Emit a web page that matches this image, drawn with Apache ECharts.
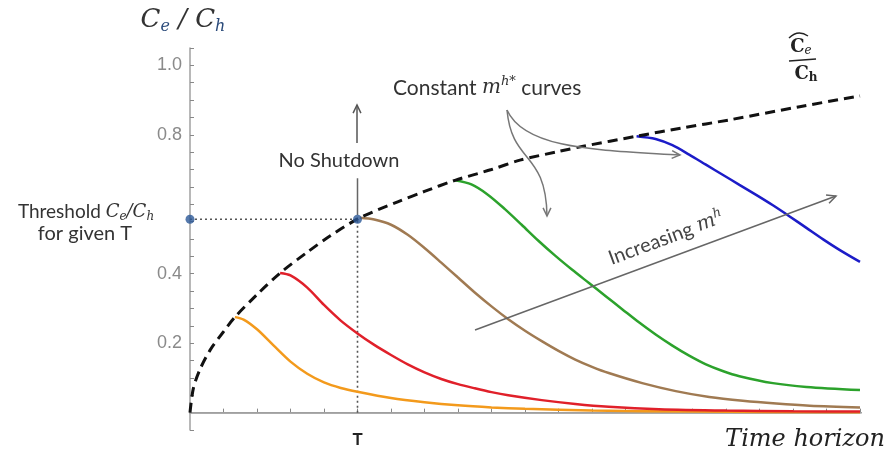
<!DOCTYPE html>
<html><head><meta charset="utf-8">
<script src="https://cdn.jsdelivr.net/npm/echarts@6/dist/echarts.min.js"></script>
<style>html,body{margin:0;padding:0;background:#fff}#c{width:888px;height:459px}</style>
</head><body><div id="c"></div>
<script>
// ---- data ----
const envelope = [[0,0],[0.1,0.07],[0.3,0.125],[0.6,0.18],[1,0.233],[1.34,0.275],[2,0.34],[2.69,0.402],[3.5,0.462],[4.2,0.51],[5.07,0.561],[6.2,0.607],[7.0,0.637],[7.91,0.669],[9,0.70],[9.85,0.727],[11,0.752],[11.74,0.767],[13.33,0.796],[14.7,0.82],[16.1,0.843],[18.2,0.881],[20,0.912]];
const orangeCurve = [[1.34,0.275],[1.6,0.268],[2,0.24],[2.5,0.193],[3,0.147],[3.5,0.112],[4,0.087],[4.5,0.071],[5,0.06],[6,0.042],[7,0.03],[8,0.021],[9,0.015],[10,0.011],[12,0.006],[15,0.003],[20,0.001]];
const redCurve = [[2.69,0.402],[3,0.395],[3.5,0.36],[4,0.31],[4.5,0.265],[5,0.228],[5.5,0.195],[6,0.166],[6.5,0.139],[7,0.116],[7.5,0.097],[8,0.082],[8.5,0.07],[9,0.059],[9.5,0.05],[10.5,0.036],[11.5,0.025],[12.5,0.017],[14,0.01],[16,0.006],[18,0.004],[20,0.003]];
const brownCurve = [[5.07,0.561],[5.5,0.556],[6,0.541],[6.5,0.512],[7,0.474],[7.5,0.432],[8,0.389],[8.5,0.346],[9,0.306],[9.5,0.269],[10,0.236],[10.5,0.206],[11,0.178],[11.5,0.153],[12,0.132],[12.5,0.114],[13.5,0.085],[14.5,0.062],[15.5,0.045],[16.5,0.034],[17.5,0.026],[18.5,0.02],[20,0.015]];
const greenCurve = [[7.91,0.669],[8.4,0.657],[8.9,0.627],[9.4,0.586],[9.9,0.541],[10.4,0.495],[10.9,0.452],[11.4,0.412],[11.9,0.374],[12.4,0.336],[12.9,0.298],[13.4,0.26],[13.9,0.225],[14.4,0.193],[14.9,0.164],[15.4,0.139],[15.9,0.12],[16.4,0.105],[17.4,0.085],[18.4,0.074],[20,0.065]];
const blueCurve = [[13.33,0.796],[13.9,0.788],[14.4,0.77],[14.9,0.743],[15.4,0.714],[15.9,0.685],[16.4,0.656],[16.9,0.627],[17.4,0.597],[17.9,0.565],[18.4,0.532],[18.9,0.499],[19.4,0.468],[20,0.434]];
const thresholdT = 5;
const thresholdValue = 0.557;
const yTickLabels = ['0.2','0.4','0.8','1.0'];
const xTickLabel = 'T';

// ---- chart ----
const chart = echarts.init(document.getElementById('c'), null, {renderer:'canvas'});
const SANS = 'Lato, "Open Sans", sans-serif';
const SERIF = '"DejaVu Serif", "Liberation Serif", serif';
const AX = '#a0a0a0';

function head(x, y, ang, L, col) {
  const a = 0.45;
  return {type:'polyline', silent:true, z:20,
    shape:{points:[[x - L*Math.cos(ang-a), y - L*Math.sin(ang-a)],[x,y],[x - L*Math.cos(ang+a), y - L*Math.sin(ang+a)]]},
    style:{stroke:col, lineWidth:1.5, fill:null}};
}
function line(x1,y1,x2,y2,col,w){return {type:'line', silent:true, z:20, shape:{x1,y1,x2,y2}, style:{stroke:col, lineWidth:w||1.5}};}

const curveLine = (name, data, color) => ({
  name, type:'line', data, smooth:0.3, symbol:'none', z:3,
  lineStyle:{color, width:2.5}, clip:false
});

const option = {
  animation:false,
  backgroundColor:'#fff',
  grid:{left:190, right:28, top:48, bottom:29, containLabel:false},
  xAxis:{type:'value', min:0, max:20, interval:1,
    axisLine:{show:true, onZero:true, lineStyle:{color:AX, width:1.5}},
    axisTick:{show:true, inside:true, length:4, lineStyle:{color:'#888'}},
    axisLabel:{formatter:v => (v===thresholdT ? xTickLabel : ''), color:'#222', fontSize:17, fontWeight:'bold', fontFamily:SANS, margin:1},
    splitLine:{show:false}},
  yAxis:{type:'value', min:-0.05, max:1.05, interval:0.05,
    axisLine:{show:true, onZero:true, lineStyle:{color:AX, width:1.5}},
    axisTick:{show:true, inside:true, length:4, lineStyle:{color:'#888'}},
    axisLabel:{formatter:v => { const s = v.toFixed(1); return (yTickLabels.includes(s) && Math.abs(v-parseFloat(s))<1e-6) ? s : ''; },
      color:'#8a8a8a', fontSize:18, fontFamily:'"Liberation Sans", Arial, sans-serif', margin:8},
    splitLine:{show:false}},
  series:[
    {type:'line', data:[[-0.45,0],[20.35,0]], symbol:'none', clip:false, silent:true, z:1, lineStyle:{color:AX, width:1.5}},
    {type:'line', data:[[0,thresholdValue],[thresholdT,thresholdValue]], symbol:'none', silent:true, z:2, lineStyle:{color:'#555', width:1.6, type:[2,3]}},
    {type:'line', data:[[thresholdT,0],[thresholdT,thresholdValue]], symbol:'none', silent:true, z:2, lineStyle:{color:'#555', width:1.6, type:[2,3]}},
    {type:'line', data:[[thresholdT,thresholdValue+0.012],[thresholdT,0.675]], symbol:'none', silent:true, z:2, lineStyle:{color:'#666', width:1.5}},
    curveLine('orange', orangeCurve, '#f39a1c'),
    curveLine('red', redCurve, '#e0202a'),
    curveLine('brown', brownCurve, '#a07a52'),
    curveLine('green', greenCurve, '#2ca22c'),
    curveLine('blue', blueCurve, '#1c1cc8'),
    {name:'envelope', type:'line', data:envelope, smooth:0.3, symbol:'none', z:5, clip:false,
      lineStyle:{color:'#111', width:3, type:[10,6]}},
    {type:'scatter', data:[[0,thresholdValue],[thresholdT,thresholdValue]], symbolSize:9, clip:false, z:10,
      itemStyle:{color:'#2b5797'}}
  ],
  graphic:[
    // y axis title
    {type:'text', x:183, y:20, z:20, style:{text:'{c|C}{s|e}{c| / C}{s|h}', align:'center', verticalAlign:'middle',
      rich:{c:{fontFamily:SERIF, fontStyle:'italic', fontSize:26, fill:'#333', lineHeight:30},
            s:{fontFamily:SERIF, fontStyle:'italic', fontSize:16, fill:'#2a4a7a', lineHeight:12, verticalAlign:'bottom'}}}},
    // threshold label
    {type:'text', x:86, y:212, z:20, style:{text:'{t|Threshold }{c|C}{s|e}{c|/C}{s|h}', align:'center', verticalAlign:'middle',
      rich:{t:{fontFamily:SANS, fontSize:19, fill:'#333', lineHeight:22},
            c:{fontFamily:SERIF, fontStyle:'italic', fontSize:18, fill:'#333', lineHeight:22},
            s:{fontFamily:SERIF, fontStyle:'italic', fontSize:12, fill:'#333', lineHeight:12, verticalAlign:'bottom'}}}},
    {type:'text', x:85, y:234, z:20, style:{text:'for given T', align:'center', verticalAlign:'middle', fontFamily:SANS, fontSize:20, fill:'#333'}},
    // No shutdown
    {type:'text', x:339, y:161, z:20, style:{text:'No Shutdown', align:'center', verticalAlign:'middle', fontFamily:SANS, fontSize:20, fill:'#333'}},
    line(357,143,357,105,'#555',1.5), head(357,105,-Math.PI/2,9,'#555'),
    // Constant m curves
    {type:'text', x:393, y:88, z:20, style:{text:'{t|Constant }{m|m}{p|h*}{t| curves}', align:'left', verticalAlign:'middle',
      rich:{t:{fontFamily:SANS, fontSize:21, fill:'#333', lineHeight:26},
            m:{fontFamily:SERIF, fontStyle:'italic', fontSize:20, fill:'#333', lineHeight:26},
            p:{fontFamily:SERIF, fontStyle:'italic', fontSize:13, fill:'#333', lineHeight:14, verticalAlign:'top'}}}},
    {type:'bezierCurve', silent:true, z:20, shape:{x1:507,y1:110,cpx1:512,cpy1:165,cpx2:546,cpy2:150,x2:547,y2:216}, style:{stroke:'#777', lineWidth:1.5, fill:null}},
    head(547,216,Math.PI/2,9,'#777'),
    {type:'bezierCurve', silent:true, z:20, shape:{x1:507,y1:110,cpx1:525,cpy1:150,cpx2:600,cpy2:150,x2:680,y2:155}, style:{stroke:'#777', lineWidth:1.5, fill:null}},
    head(680,155,Math.atan2(5,80),9,'#777'),
    // Increasing m^h
    line(475,330,836,196,'#666',1.5), head(836,196,Math.atan2(196-330,836-475),10,'#666'),
    {type:'text', x:666, y:238, rotation:20.3*Math.PI/180, z:20, style:{text:'{t|Increasing }{m|m}{p|h}', align:'center', verticalAlign:'middle',
      rich:{t:{fontFamily:SANS, fontSize:20, fill:'#444', lineHeight:24},
            m:{fontFamily:SERIF, fontStyle:'italic', fontSize:20, fill:'#444', lineHeight:24},
            p:{fontFamily:SERIF, fontStyle:'italic', fontSize:13, fill:'#444', lineHeight:12, verticalAlign:'top'}}}},
    // envelope label (fraction)
    {type:'bezierCurve', silent:true, z:20, shape:{x1:789,y1:38,cpx1:798,cpy1:29,x2:808,y2:36}, style:{stroke:'#222', lineWidth:1.4, fill:null}},
    {type:'text', x:801, y:47, z:20, style:{text:'{c|C}{s|e}', align:'center', verticalAlign:'middle',
      rich:{c:{fontFamily:SERIF, fontWeight:'bold', fontSize:18, fill:'#222', lineHeight:20},
            s:{fontFamily:SERIF, fontStyle:'italic', fontSize:12, fill:'#222', lineHeight:10, verticalAlign:'bottom'}}}},
    line(789,61,816,59,'#222',1.5),
    {type:'text', x:806, y:74, z:20, style:{text:'{c|C}{s|h}', align:'center', verticalAlign:'middle',
      rich:{c:{fontFamily:SERIF, fontWeight:'bold', fontSize:18, fill:'#222', lineHeight:20},
            s:{fontFamily:SERIF, fontWeight:'bold', fontSize:12, fill:'#222', lineHeight:10, verticalAlign:'bottom'}}}},
    // x axis title
    {type:'text', x:885, y:440, z:20, style:{text:'Time horizon', align:'right', verticalAlign:'middle', fontFamily:SERIF, fontStyle:'italic', fontSize:24, fill:'#222'}}
  ]
};
chart.setOption(option);
</script></body></html>
